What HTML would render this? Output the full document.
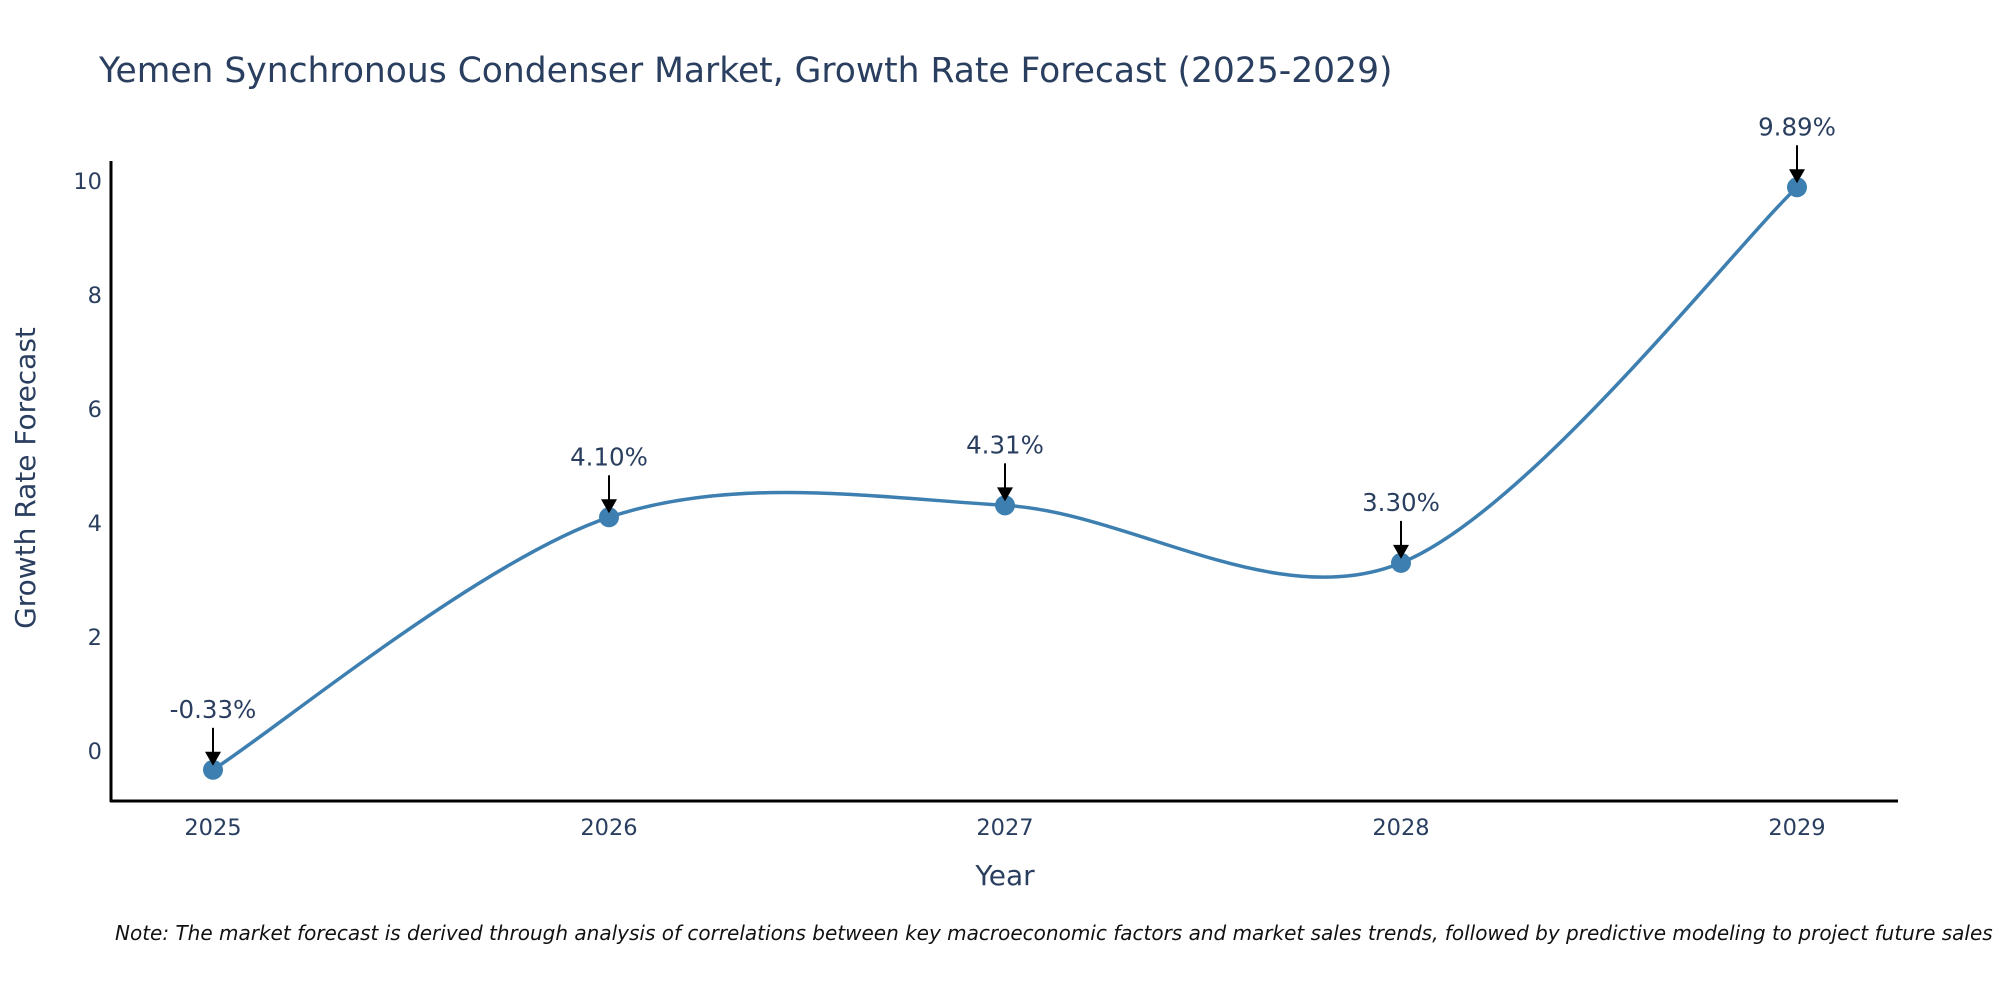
<!DOCTYPE html>
<html><head><meta charset="utf-8"><style>
body{margin:0;background:#fff;}
svg{display:block;font-family:"DejaVu Sans","Liberation Sans",sans-serif;}
</style></head><body>
<svg id="chart" width="2000" height="1000">
<text x="99" y="82" font-size="34.5" fill="#2a3f5f">Yemen Synchronous Condenser Market, Growth Rate Forecast (2025-2029)</text>
<g id="yticks"></g>
<g id="xticks"></g>
<path id="line" fill="none" stroke="#3d7fb0" stroke-width="3.5"/>
<g id="pts"></g>
<g id="ann"></g>
<line x1="111" y1="161" x2="111" y2="802" stroke="#000" stroke-width="3"/>
<line x1="110" y1="801" x2="1898" y2="801" stroke="#000" stroke-width="3"/>
<text transform="translate(35,478) rotate(-90)" text-anchor="middle" font-size="28" fill="#2a3f5f">Growth Rate Forecast</text>
<text x="1005" y="885" text-anchor="middle" font-size="28" fill="#2a3f5f">Year</text>
<text x="115" y="940" font-size="20" font-style="italic" fill="#111">Note: The market forecast is derived through analysis of correlations between key macroeconomic factors and market sales trends, followed by predictive modeling to project future sales</text>
</svg>
<script>
const years=[2025,2026,2027,2028,2029];
const values=[-0.33,4.10,4.31,3.30,9.89];
const labels=["-0.33%","4.10%","4.31%","3.30%","9.89%"];
const yTicks=[0,2,4,6,8,10];
const NS="http://www.w3.org/2000/svg";
const xs=y=>213+(y-2025)*396;
const ys=v=>751-v*57;
function mk(t,a,p){const e=document.createElementNS(NS,t);for(const k in a)e.setAttribute(k,a[k]);p.appendChild(e);return e;}
const yt=document.getElementById('yticks');
yTicks.forEach(v=>{const t=mk('text',{x:102,y:ys(v)+8,'text-anchor':'end','font-size':22.5,fill:'#2a3f5f'},yt);t.textContent=v;

});
const xt=document.getElementById('xticks');
years.forEach(y=>{const t=mk('text',{x:xs(y),y:835,'text-anchor':'middle','font-size':22.5,fill:'#2a3f5f'},xt);t.textContent=y;

});
const P=years.map((y,i)=>[xs(y),ys(values[i])]);
let d=`M${P[0][0]},${P[0][1]}`;const k=0.16;
for(let i=0;i<P.length-1;i++){const p0=P[i-1]||P[i],p1=P[i],p2=P[i+1],p3=P[i+2]||P[i+1];
const c1=[p1[0]+(p2[0]-p0[0])*k,p1[1]+(p2[1]-p0[1])*k],c2=[p2[0]-(p3[0]-p1[0])*k,p2[1]-(p3[1]-p1[1])*k];
d+=` C${c1[0]},${c1[1]} ${c2[0]},${c2[1]} ${p2[0]},${p2[1]}`;}
document.getElementById('line').setAttribute('d',d);
const pg=document.getElementById('pts'),ag=document.getElementById('ann');
P.forEach((p,i)=>{const c=mk('circle',{cx:p[0],cy:p[1],r:10,fill:'#3d7fb0'},pg);


const l=mk('line',{x1:p[0],y1:p[1]-42,x2:p[0],y2:p[1]-14,stroke:'#000','stroke-width':2},ag);


const h=mk('path',{d:`M${p[0]-8},${p[1]-18} L${p[0]+8},${p[1]-18} L${p[0]},${p[1]-4} Z`,fill:'#000'},ag);


const t=mk('text',{x:p[0],y:p[1]-52,'text-anchor':'middle','font-size':24.5,fill:'#2a3f5f'},ag);t.textContent=labels[i];

});
</script>
</body></html>
